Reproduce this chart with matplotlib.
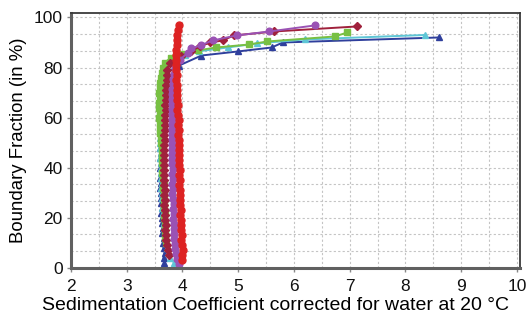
import matplotlib
matplotlib.use("Agg")
import matplotlib.pyplot as plt
from matplotlib.ticker import MultipleLocator

plt.rcParams['font.family'] = ['Liberation Sans', 'DejaVu Sans']

# Sedimentation coefficient (x) vs boundary fraction in % (y)
blue_y = [2, 4, 6, 8, 10, 12, 14, 16, 18, 20, 22, 24, 26, 28, 30, 32, 34, 36, 38, 40,
          42, 44, 46, 48, 50, 52, 54, 56, 58, 60, 62, 64, 66, 68, 70, 72, 74, 76, 78,
          80.8, 84.8, 86.4, 88, 90, 92]
blue_x = [3.67, 3.66, 3.68, 3.66, 3.65, 3.66, 3.64, 3.65, 3.63, 3.64,
          3.62, 3.63, 3.62, 3.61, 3.62, 3.60, 3.61, 3.60, 3.61, 3.60,
          3.61, 3.60, 3.61, 3.60, 3.61, 3.62, 3.61, 3.62, 3.62, 3.63,
          3.62, 3.63, 3.64, 3.63, 3.64, 3.65, 3.66, 3.68, 3.72,
          3.94, 4.34, 4.99, 5.6, 5.8, 8.6]

cyan_y = [2, 4, 6, 8, 10, 12, 14, 16, 18, 20, 22, 24, 26, 28, 30, 32, 34, 36, 38, 40,
          42, 44, 46, 48, 50, 52, 54, 56, 58, 60, 62, 64, 66, 68, 70, 72, 74, 76, 78, 80,
          83, 85.2, 86.5, 88, 89.6, 91.2, 93]
cyan_x = [3.85, 3.78, 3.74, 3.72, 3.70, 3.69, 3.68, 3.67, 3.66, 3.67,
          3.65, 3.64, 3.65, 3.63, 3.64, 3.62, 3.63, 3.62, 3.61, 3.62,
          3.61, 3.60, 3.61, 3.60, 3.59, 3.60, 3.61, 3.60, 3.61, 3.60,
          3.61, 3.62, 3.61, 3.62, 3.62, 3.63, 3.63, 3.64, 3.65, 3.68,
          3.85, 4.05, 4.30, 4.81, 5.33, 6.19, 8.35]

green_y = [10, 12, 14, 16, 18, 20, 22, 24, 26, 28, 30, 32, 34, 36, 38, 40, 42, 44, 46, 48,
           50, 52, 54, 56, 58, 60, 62, 64, 66, 68, 70, 72, 74, 76, 78, 80, 82,
           84, 85.5, 86.8, 88, 89.2, 90.4, 92.4, 94]
green_x = [3.70, 3.69, 3.68, 3.69, 3.68, 3.67, 3.68, 3.67, 3.66, 3.67,
           3.66, 3.65, 3.66, 3.65, 3.64, 3.65, 3.64, 3.63, 3.64, 3.63,
           3.62, 3.61, 3.60, 3.59, 3.60, 3.58, 3.59, 3.58, 3.58, 3.59,
           3.58, 3.59, 3.60, 3.61, 3.63, 3.65, 3.68,
           3.80, 4.00, 4.27, 4.6, 5.2, 5.52, 6.73, 6.96]

darkred_y = [5, 7, 9, 11, 13, 15, 17, 19, 21, 23, 25, 27, 29, 31, 33, 35, 37, 39, 41, 43,
             45, 47, 49, 51, 53, 55, 57, 59, 61, 63, 65, 67, 69, 71, 73, 75, 77, 79,
             82, 84.5, 86.5, 88.5, 90, 90.8, 92.8, 94.4, 96.4]
darkred_x = [3.76, 3.74, 3.72, 3.71, 3.70, 3.69, 3.70, 3.68, 3.69, 3.68,
             3.67, 3.68, 3.67, 3.68, 3.67, 3.66, 3.67, 3.66, 3.67, 3.66,
             3.67, 3.66, 3.67, 3.68, 3.67, 3.68, 3.69, 3.68, 3.69, 3.70,
             3.69, 3.70, 3.70, 3.71, 3.71, 3.72, 3.72, 3.73,
             3.78, 3.98, 4.15, 4.32, 4.5, 4.72, 4.92, 5.65, 7.13]

purple_y = [1.6, 3.5, 5.5, 7.5, 9.5, 11.5, 13.5, 15.5, 17.5, 19.5, 21.5, 23.5, 25.5, 27.5,
            29.5, 31.5, 33.5, 35.5, 37.5, 39.5, 41.5, 43.5, 45.5, 47.5, 49.5, 51.5, 53.5,
            55.5, 57.5, 59.5, 61.5, 63.5, 65.5, 67.5, 69.5, 71.5, 73.5, 75.5, 77.5,
            80, 83, 86, 87.6, 89, 90.8, 92.8, 94.4, 96.8]
purple_x = [3.94,
            3.91, 3.89, 3.87, 3.86, 3.85, 3.84, 3.85, 3.84, 3.83, 3.84,
            3.83, 3.84, 3.83, 3.82, 3.83, 3.82, 3.83, 3.82, 3.83, 3.82,
            3.81, 3.82, 3.81, 3.82, 3.81, 3.82, 3.81, 3.82, 3.81, 3.82,
            3.81, 3.82, 3.81, 3.82, 3.82, 3.83, 3.83, 3.84,
            3.86, 3.95, 4.10, 4.16, 4.34, 4.54, 4.97, 5.56, 6.37]

red_y = [3, 5, 7, 9, 11, 13, 15, 17, 19, 21, 23, 25, 27, 29, 31, 33, 35, 37, 39, 41,
         43, 45, 47, 49, 51, 53, 55, 57, 59, 61, 63, 65, 67, 69, 71, 73, 75, 77, 79, 81,
         83, 85, 87, 89, 91, 93, 95, 97]
red_x = [4.00, 3.99, 4.01, 3.99, 3.98, 4.00, 3.98, 3.97, 3.98, 3.96,
         3.97, 3.96, 3.95, 3.96, 3.95, 3.94, 3.95, 3.94, 3.95, 3.94,
         3.93, 3.94, 3.93, 3.94, 3.93, 3.92, 3.93, 3.92, 3.93, 3.92,
         3.91, 3.92, 3.91, 3.90, 3.91, 3.90, 3.89, 3.90, 3.89, 3.88,
         3.89, 3.88, 3.89, 3.90, 3.90, 3.91, 3.92, 3.93]

fig = plt.figure(figsize=(5.26, 3.2), dpi=100)
ax = fig.add_axes([0.135, 0.163, 0.853, 0.795])

ax.plot(blue_x, blue_y, color='#2f3f9c', marker='^', ms=4.3, lw=1.4)
ax.plot(cyan_x, cyan_y, color='#5ec6d6', marker='^', ms=4.3, lw=1.4)
ax.plot(green_x, green_y, color='#78c043', marker='s', ms=4.0, lw=1.4)
ax.plot(darkred_x, darkred_y, color='#a0213c', marker='D', ms=3.6, lw=1.4)
ax.plot(purple_x, purple_y, color='#9a52b4', marker='o', ms=4.8, lw=1.4)
ax.plot(red_x, red_y, color='#dd2222', marker='o', ms=5.0, lw=1.4)

ax.set_xlim(2, 10.05)
ax.set_ylim(0, 101.6)
ax.xaxis.set_major_locator(MultipleLocator(1))
ax.xaxis.set_minor_locator(MultipleLocator(0.5))
ax.yaxis.set_major_locator(MultipleLocator(20))
ax.yaxis.set_minor_locator(MultipleLocator(20 / 3))
ax.grid(True, which='both', color='#c4c4c4', linestyle=(0, (2, 2)), lw=0.8)
ax.set_axisbelow(True)
ax.tick_params(which='major', length=3, width=1, color='#888888',
               labelsize=12.5, labelcolor='#111111')
ax.tick_params(which='minor', length=0)
ax.tick_params(axis='x', pad=5)
ax.tick_params(axis='y', pad=3)

for side in ['top', 'right']:
    ax.spines[side].set_linewidth(1.3)
    ax.spines[side].set_color('#3a3a3a')
for side in ['left', 'bottom']:
    ax.spines[side].set_linewidth(2.2)
    ax.spines[side].set_color('#606060')

ax.set_xlabel("Sedimentation Coefficient corrected for water at 20 °C", fontsize=14, labelpad=2)
ax.xaxis.set_label_coords(0.455, -0.115)
ax.set_ylabel("Boundary Fraction (in %)", fontsize=13.4, labelpad=5)

fig.savefig("out.png", dpi=100)
